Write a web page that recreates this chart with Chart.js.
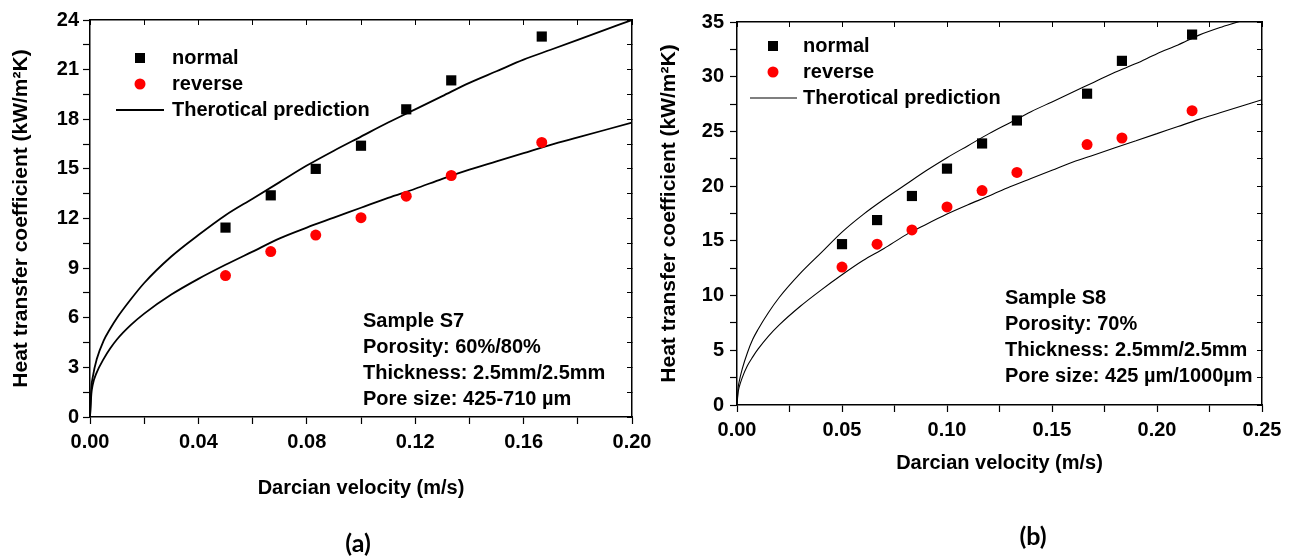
<!DOCTYPE html>
<html>
<head>
<meta charset="utf-8">
<script src="https://cdn.jsdelivr.net/npm/chart.js@4/dist/chart.umd.min.js"></script>
<style>
  body { margin: 0; background: #fff; width: 1291px; height: 556px; position: relative; overflow: hidden; }
  #chart-a { position: absolute; left: 0; top: 0; }
  #chart-b { position: absolute; left: 650px; top: 0; }
  .tag { position: absolute; width: 100px; text-align: center; font: bold 25px Lato, "Open Sans", sans-serif; line-height: 30px; color: #000; }
  #tag-a { left: 308px; top: 527px; }
  #tag-b { left: 983px; top: 520px; }
</style>
</head>
<body>
<canvas id="chart-a" width="660" height="556"></canvas>
<canvas id="chart-b" width="641" height="556"></canvas>
<div class="tag" id="tag-a">(a)</div>
<div class="tag" id="tag-b">(b)</div>
<script>
// ---- panel (a): sample S7 ----
const velA = [0.05, 0.0667, 0.0833, 0.1, 0.1167, 0.1333, 0.1667];
const normalA = [11.45, 13.4, 15.0, 16.4, 18.6, 20.35, 23.0];
const reverseA = [8.55, 10.0, 11.0, 12.05, 13.35, 14.6, 16.6];
const curveXA = [0, 0.0005, 0.001, 0.0025, 0.005, 0.0075, 0.01, 0.015, 0.02, 0.03, 0.04, 0.05, 0.06, 0.07, 0.08, 0.09, 0.10, 0.11, 0.12, 0.13, 0.14, 0.15, 0.16, 0.17, 0.18, 0.19, 0.20];
const theoryNormalA = [0, 1.8, 2.4, 3.5, 4.6, 5.35, 6.0, 7.1, 8.1, 9.7, 11.0, 12.2, 13.2, 14.2, 15.2, 16.1, 16.95, 17.8, 18.6, 19.4, 20.2, 20.9, 21.6, 22.2, 22.8, 23.4, 24.0];
const theoryReverseA = [0, 1.4, 1.95, 2.7, 3.5, 4.15, 4.7, 5.55, 6.25, 7.4, 8.35, 9.2, 10.0, 10.8, 11.45, 12.05, 12.65, 13.25, 13.8, 14.4, 14.95, 15.45, 15.95, 16.45, 16.9, 17.35, 17.8];
const notesA = ['Sample S7', 'Porosity: 60%/80%', 'Thickness: 2.5mm/2.5mm', 'Pore size: 425-710 \u00b5m'];

// ---- panel (b): sample S8 ----
const velB = [0.05, 0.0667, 0.0833, 0.1, 0.1167, 0.1333, 0.1667, 0.1833, 0.2167];
const normalB = [14.7, 16.9, 19.1, 21.6, 23.9, 26.0, 28.45, 31.45, 33.85];
const reverseB = [12.6, 14.7, 16.0, 18.1, 19.6, 21.25, 23.8, 24.4, 26.9];
const curveXB = [0, 0.0005, 0.001, 0.0025, 0.005, 0.0075, 0.01, 0.015, 0.02, 0.03, 0.04, 0.05, 0.06, 0.07, 0.08, 0.09, 0.10, 0.11, 0.12, 0.13, 0.14, 0.15, 0.16, 0.17, 0.18, 0.19, 0.20, 0.21, 0.22, 0.23, 0.24, 0.25];
const theoryNormalB = [0, 1.5, 2.1, 3.3, 4.8, 6.0, 6.9, 8.45, 9.8, 12.0, 13.9, 15.8, 17.4, 18.8, 20.1, 21.4, 22.6, 23.7, 24.8, 25.8, 26.8, 27.7, 28.6, 29.5, 30.4, 31.2, 32.1, 32.9, 33.8, 34.5, 35.1, 35.8];
const theoryReverseB = [0, 1.1, 1.6, 2.5, 3.6, 4.4, 5.1, 6.3, 7.3, 9.0, 10.5, 11.9, 13.2, 14.3, 15.5, 16.5, 17.45, 18.3, 19.1, 19.95, 20.7, 21.45, 22.2, 22.85, 23.5, 24.15, 24.8, 25.45, 26.1, 26.7, 27.3, 27.9];
const notesB = ['Sample S8', 'Porosity: 70%', 'Thickness: 2.5mm/2.5mm', 'Pore size: 425 \u00b5m/1000\u00b5m'];

const legendLabels = ['normal', 'reverse', 'Therotical prediction'];
const yTitle = 'Heat transfer coefficient (kW/m\u00b2K)';
const xTitle = 'Darcian velocity (m/s)';

const FONT = '"Liberation Sans", Arial, sans-serif';
const pts = (xs, ys) => xs.map((x, i) => ({ x: x, y: ys[i] }));

// legend + sample text drawn inside the plot
const notesPlugin = {
  id: 'notes',
  afterDraw(chart, args, o) {
    const ctx = chart.ctx;
    ctx.save();
    ctx.font = 'bold 20px ' + FONT;
    ctx.textBaseline = 'middle';
    ctx.fillStyle = '#000';
    const lg = o.legend;
    // square
    ctx.fillRect(lg.mx - 5, lg.rows[0] - 5, 10, 10);
    ctx.fillText(legendLabels[0], lg.tx, lg.rows[0]);
    // circle
    ctx.fillStyle = '#ff0000';
    ctx.beginPath();
    ctx.arc(lg.mx, lg.rows[1], 5.5, 0, Math.PI * 2);
    ctx.fill();
    ctx.fillStyle = '#000';
    ctx.fillText(legendLabels[1], lg.tx, lg.rows[1]);
    // line
    ctx.strokeStyle = '#000';
    ctx.lineWidth = o.lineWidth;
    ctx.beginPath();
    ctx.moveTo(lg.l1, lg.rows[2]);
    ctx.lineTo(lg.l2, lg.rows[2]);
    ctx.stroke();
    ctx.fillText(legendLabels[2], lg.tx, lg.rows[2]);
    // sample notes
    o.lines.forEach((t, i) => ctx.fillText(t, o.nx, o.ny + i * 26.3));
    ctx.restore();
  }
};

function makeChart(canvas, cfg) {
  const tickFont = { family: FONT, size: 20, weight: 'bold' };
  return new Chart(canvas.getContext('2d'), {
    type: 'scatter',
    data: {
      datasets: [
        { label: 'normal', data: pts(cfg.vel, cfg.normal), pointStyle: 'rect', pointRadius: 7.2,
          backgroundColor: '#000', borderColor: '#000', borderWidth: 0, showLine: false },
        { label: 'reverse', data: pts(cfg.vel, cfg.reverse), pointStyle: 'circle', pointRadius: 5.5,
          backgroundColor: '#ff0000', borderColor: '#ff0000', borderWidth: 0, showLine: false },
        { label: 'theory normal', data: pts(cfg.cx, cfg.tn), showLine: true, pointRadius: 0,
          borderColor: '#000', borderWidth: cfg.lw, cubicInterpolationMode: 'monotone' },
        { label: 'theory reverse', data: pts(cfg.cx, cfg.tr), showLine: true, pointRadius: 0,
          borderColor: '#000', borderWidth: cfg.lw, cubicInterpolationMode: 'monotone' }
      ]
    },
    options: {
      responsive: false,
      animation: false,
      devicePixelRatio: 1,
      layout: { padding: { left: 0, top: cfg.top, right: cfg.right, bottom: cfg.bottom } },
      plugins: {
        legend: { display: false },
        tooltip: { enabled: false },
        notes: cfg.notes
      },
      scales: {
        x: {
          type: 'linear', position: 'bottom', min: 0, max: cfg.xmax,
          afterFit: s => { s.height = cfg.xh; },
          border: { color: '#000', width: 1.5 },
          grid: { drawOnChartArea: false, color: '#000', tickLength: 7, tickWidth: 1.2 },
          ticks: { stepSize: cfg.xstep, color: '#000', font: tickFont, padding: 6, maxRotation: 0, autoSkip: false,
            callback: (v, i) => i % 2 === 0 ? v.toFixed(2) : '' },
          title: { display: true, text: xTitle, color: '#000', font: { family: FONT, size: 20, weight: 'bold' },
            padding: { top: 0, bottom: cfg.xtPad } }
        },
        x2: {
          type: 'linear', position: 'top', min: 0, max: cfg.xmax,
          afterFit: s => { s.height = 0; },
          border: { color: '#000', width: 1.5 },
          grid: { drawOnChartArea: false, color: '#000', tickLength: -5, tickWidth: 1 },
          ticks: { stepSize: cfg.xstep, display: false }
        },
        y: {
          type: 'linear', position: 'left', min: 0, max: cfg.ymax,
          afterFit: s => { s.width = cfg.yw; },
          border: { color: '#000', width: 1.5 },
          grid: { drawOnChartArea: false, color: '#000', tickLength: 7, tickWidth: 1.2 },
          ticks: { stepSize: cfg.ystep, color: '#000', font: tickFont, padding: cfg.ytPadTicks, autoSkip: false,
            callback: (v, i) => i % 2 === 0 ? String(v) : '' },
          title: { display: true, text: yTitle, color: '#000',
            font: { family: FONT, size: 21, weight: 'bold', lineHeight: 1.2 },
            padding: { top: cfg.ytPad, bottom: 0 } }
        },
        y2: {
          type: 'linear', position: 'right', min: 0, max: cfg.ymax,
          afterFit: s => { s.width = 0; },
          border: { color: '#000', width: 1.5 },
          grid: { drawOnChartArea: false, color: '#000', tickLength: -5, tickWidth: 1 },
          ticks: { stepSize: cfg.ystep, display: false }
        }
      }
    },
    plugins: [notesPlugin]
  });
}

makeChart(document.getElementById('chart-a'), {
  vel: velA, normal: normalA, reverse: reverseA, cx: curveXA, tn: theoryNormalA, tr: theoryReverseA,
  lw: 1.8, xmax: 0.20, xstep: 0.02, ymax: 24, ystep: 1.5,
  top: 20, right: 28, bottom: 39, yw: 90, xh: 100, xtPad: 17, ytPad: 9, ytPadTicks: 4,
  notes: {
    lineWidth: 1.8,
    legend: { mx: 140, tx: 172, l1: 116, l2: 164, rows: [58, 84, 110] },
    lines: notesA, nx: 363, ny: 321
  }
});

makeChart(document.getElementById('chart-b'), {
  vel: velB, normal: normalB, reverse: reverseB, cx: curveXB, tn: theoryNormalB, tr: theoryReverseB,
  lw: 1.1, xmax: 0.25, xstep: 0.025, ymax: 35, ystep: 2.5,
  top: 22, right: 29, bottom: 45.4, yw: 87, xh: 105.6, xtPad: 35.6, ytPad: 7, ytPadTicks: 6,
  notes: {
    lineWidth: 1.1,
    legend: { mx: 123, tx: 153, l1: 100, l2: 147, rows: [46, 72, 98] },
    lines: notesB, nx: 355, ny: 298
  }
});
</script>
</body>
</html>
